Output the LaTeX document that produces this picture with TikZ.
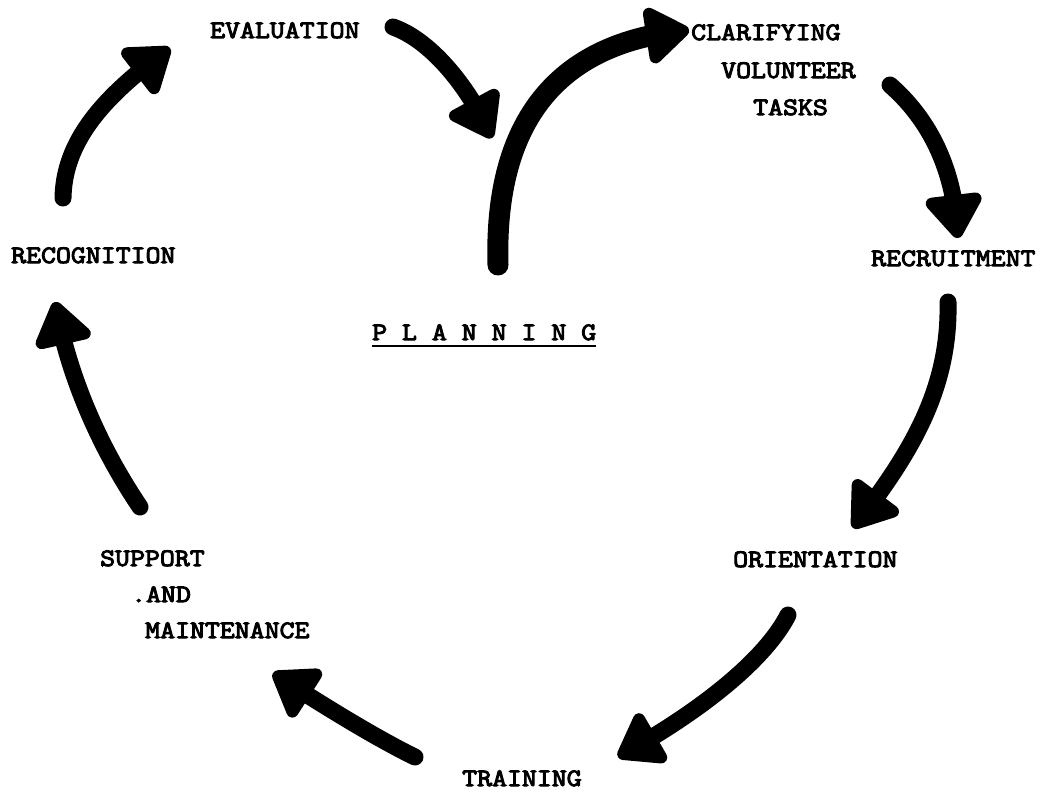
\documentclass[tikz,border=0pt]{standalone}
\usepackage{fontspec}
\newfontfamily\twfont[FakeStretch=1.16,FakeBold=4]{Latin Modern Mono}
\usetikzlibrary{arrows.meta,bending}
\tikzset{
  lbl/.style={anchor=base west, inner sep=0pt, font=\twfont\fontsize{25}{30}\selectfont},
  harrow/.style={line width=17pt, line cap=round, -{Triangle[length=48pt,width=64pt,round]}},
}
\begin{document}
\begin{tikzpicture}[x=1pt,y=-1pt]
\fill[white] (0,0) rectangle (1041,792);
\useasboundingbox (0,0) rectangle (1041,792);
% labels
\node[lbl] (eval) at (210,38) {EVALUATION};
\node[lbl] (clar) at (691,40) {CLARIFYING};
\node[lbl] (vol) at (721,78) {VOLUNTEER};
\node[lbl] (task) at (753,115) {TASKS};
\node[lbl] (recr) at (871,266) {RECRUITMENT};
\node[lbl] (reco) at (11,263) {RECOGNITION};
\node[lbl] (plan) at (372,340) {P L A N N I N G};
\node[lbl] (supp) at (100,566) {SUPPORT};
\node[lbl] (and) at (131,602) {.AND};
\node[lbl] (main) at (145,638) {MAINTENANCE};
\node[lbl] (orie) at (733,567) {ORIENTATION};
\node[lbl] (trai) at (462,786) {TRAINING};
\draw[line width=2pt] ([yshift=-6pt]plan.base west) -- ([yshift=-6pt]plan.base east);
% arrow end points
\coordinate (a1s) at (63,198);  \coordinate (a1e) at (170,48);
\coordinate (a2s) at (393,27);  \coordinate (a2e) at (492,138);
\coordinate (a3s) at (498,265); \coordinate (a3e) at (689,30);
\coordinate (a4s) at (890,85);  \coordinate (a4e) at (958,238);
\coordinate (a5s) at (948,302); \coordinate (a5e) at (853,528);
\coordinate (a6s) at (788,615); \coordinate (a6e) at (618,757);
\coordinate (a7s) at (415,757); \coordinate (a7e) at (273,673);
\coordinate (a8s) at (140,507); \coordinate (a8e) at (55,302);
% arrows
\draw[harrow] (a1s) .. controls (64,140) and (105,95) .. (a1e);
\draw[harrow] (a2s) .. controls (430,40) and (468,85) .. (a2e);
\draw[harrow, line width=21pt] (a3s) .. controls (494,130) and (550,42) .. (a3e);
\draw[harrow] (a4s) .. controls (930,120) and (955,170) .. (a4e);
\draw[harrow] (a5s) .. controls (950,390) and (910,455) .. (a5e);
\draw[harrow] (a6s) .. controls (765,660) and (700,712) .. (a6e);
\draw[harrow] (a7s) .. controls (380,740) and (330,710) .. (a7e);
\draw[harrow] (a8s) .. controls (105,455) and (70,385) .. (a8e);
\end{tikzpicture}
\end{document}
